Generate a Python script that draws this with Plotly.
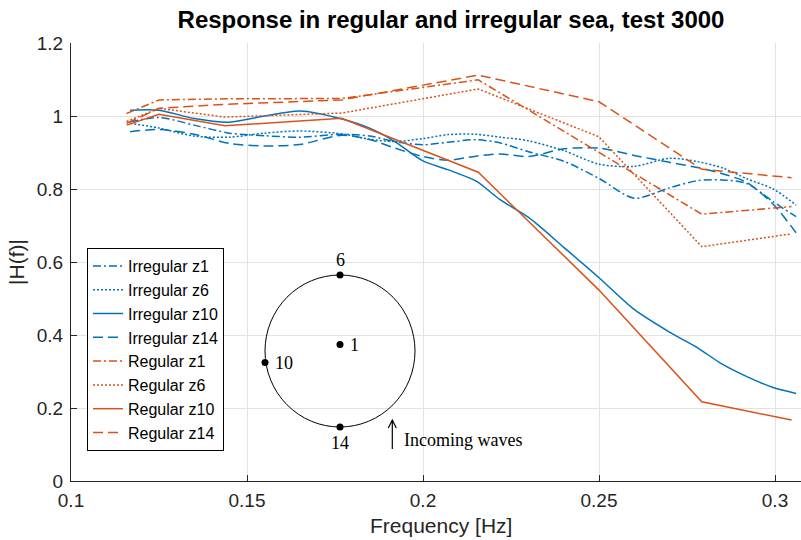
import plotly.graph_objects as go

# Irregular-sea transfer functions (smooth spectral estimates)
freq_irr = [0.1168, 0.125, 0.135, 0.145, 0.155, 0.165, 0.177, 0.185, 0.192, 0.2,
            0.207, 0.215, 0.222, 0.23, 0.24, 0.25, 0.26, 0.27, 0.278, 0.285,
            0.292, 0.2995, 0.306]
irr_z1 = [0.984, 0.996, 0.975, 0.953, 0.946, 0.942, 0.950, 0.945, 0.930, 0.921,
          0.928, 0.935, 0.926, 0.902, 0.876, 0.829, 0.775, 0.803, 0.823, 0.825,
          0.815, 0.765, 0.724]
irr_z6 = [0.980, 0.967, 0.945, 0.942, 0.953, 0.959, 0.951, 0.936, 0.930, 0.938,
          0.949, 0.950, 0.942, 0.932, 0.905, 0.868, 0.862, 0.884, 0.875, 0.858,
          0.828, 0.800, 0.756]
irr_z10 = [1.016, 1.016, 0.993, 0.983, 1.000, 1.014, 0.992, 0.966, 0.930, 0.877,
           0.853, 0.822, 0.770, 0.722, 0.640, 0.557, 0.470, 0.408, 0.365, 0.320,
           0.286, 0.256, 0.240]
irr_z14 = [0.957, 0.963, 0.950, 0.925, 0.918, 0.922, 0.947, 0.935, 0.912, 0.889,
           0.879, 0.890, 0.896, 0.889, 0.910, 0.912, 0.892, 0.873, 0.859, 0.842,
           0.818, 0.758, 0.680]

# Regular-sea tests (one value per wave frequency)
freq_reg = [0.1158, 0.125, 0.1437, 0.1769, 0.2157, 0.25, 0.2792, 0.3047]
reg_z1 = [1.007, 1.044, 1.047, 1.048, 1.099, 0.900, 0.731, 0.752]
reg_z6 = [0.985, 1.021, 0.997, 1.008, 1.074, 0.943, 0.642, 0.677]
reg_z10 = [0.975, 1.005, 0.973, 0.994, 0.846, 0.523, 0.217, 0.167]
reg_z14 = [0.980, 1.021, 1.032, 1.044, 1.112, 1.039, 0.854, 0.831]

x_ticks = [0.1, 0.15, 0.2, 0.25, 0.3]
x_ticktext = ["0.1", "0.15", "0.2", "0.25", "0.3"]
y_ticks = [0, 0.2, 0.4, 0.6, 0.8, 1.0, 1.2]
y_ticktext = ["0", "0.2", "0.4", "0.6", "0.8", "1", "1.2"]

BLUE = "#0072BD"
ORANGE = "#D95319"
DASHES = {
    "dashdot": "8px,3px,2px,3px",
    "dot": "2px,2px",
    "solid": "solid",
    "dash": "10px,5px",
}

series = [
    ("Irregular z1", freq_irr, irr_z1, BLUE, "dashdot", "spline"),
    ("Irregular z6", freq_irr, irr_z6, BLUE, "dot", "spline"),
    ("Irregular z10", freq_irr, irr_z10, BLUE, "solid", "spline"),
    ("Irregular z14", freq_irr, irr_z14, BLUE, "dash", "spline"),
    ("Regular z1", freq_reg, reg_z1, ORANGE, "dashdot", "linear"),
    ("Regular z6", freq_reg, reg_z6, ORANGE, "dot", "linear"),
    ("Regular z10", freq_reg, reg_z10, ORANGE, "solid", "linear"),
    ("Regular z14", freq_reg, reg_z14, ORANGE, "dash", "linear"),
]

fig = go.Figure()
for name, fx, fy, color, dash, shape in series:
    fig.add_trace(go.Scatter(
        x=fx, y=fy, name=name, mode="lines",
        line=dict(color=color, width=1.5, dash=DASHES[dash], shape=shape,
                  smoothing=0.8 if shape == "spline" else None),
    ))

# Plot-area geometry in pixels
W, H = 801, 540
L, R, T, B = 71, 0, 43, 59
PW, PH = W - L - R, H - T - B


def paper(px, py):
    return (px - L) / PW, (H - B - py) / PH


shapes = []
annotations = []

# Sensor layout inset: ring with gauge positions
cx0, cy0 = paper(265, 427)
cx1, cy1 = paper(415, 275)
shapes.append(dict(type="circle", xref="paper", yref="paper",
                   x0=cx0, y0=cy0, x1=cx1, y1=cy1,
                   line=dict(color="black", width=1)))

gauges = [("6", 340, 275, 340, 260), ("14", 340, 427, 340, 443),
          ("10", 265, 362.5, 284, 363), ("1", 340, 344.5, 354, 345)]
r_dot = 3.5
for label, gx, gy, tx, ty in gauges:
    a0, b0 = paper(gx - r_dot, gy + r_dot)
    a1, b1 = paper(gx + r_dot, gy - r_dot)
    shapes.append(dict(type="circle", xref="paper", yref="paper",
                       x0=a0, y0=b0, x1=a1, y1=b1,
                       fillcolor="black", line=dict(color="black", width=0)))
    ax_, ay_ = paper(tx, ty)
    annotations.append(dict(text=label, x=ax_, y=ay_, xref="paper", yref="paper",
                            showarrow=False, xanchor="center", yanchor="middle",
                            font=dict(family="Liberation Serif", size=18, color="black")))

# Wave-direction arrow
ah = paper(392.3, 420)
at = paper(392.3, 449)
hl = paper(388.3, 428)
hr = paper(396.3, 428)
shapes.append(dict(type="path", xref="paper", yref="paper",
                   path=f"M {at[0]},{at[1]} L {ah[0]},{ah[1]} M {hl[0]},{hl[1]} "
                        f"L {ah[0]},{ah[1]} L {hr[0]},{hr[1]}",
                   line=dict(color="black", width=1.2)))
tx, ty = paper(402, 440)
annotations.append(dict(text="Incoming waves", x=tx, y=ty, xref="paper", yref="paper",
                        showarrow=False, xanchor="left", yanchor="middle",
                        font=dict(family="Liberation Serif", size=18, color="black")))

# Axis label for frequency
fx_, fy_ = paper(441, 525)
annotations.append(dict(text="Frequency [Hz]", x=fx_, y=fy_, xref="paper", yref="paper",
                        showarrow=False, xanchor="center", yanchor="middle",
                        font=dict(family="Liberation Sans", size=21, color="#262626")))

axis_common = dict(
    showline=True, linecolor="#262626", linewidth=1,
    ticks="inside", ticklen=6, tickcolor="#262626", tickwidth=1,
    showgrid=True, gridcolor="#e2e2e2", gridwidth=1,
    zeroline=False, mirror=False,
    tickfont=dict(family="Liberation Sans", size=19, color="#262626"),
)

lx, ly = paper(87, 248)
fig.update_layout(
    width=W, height=H,
    margin=dict(l=L, r=R, t=T, b=B, pad=0),
    plot_bgcolor="white", paper_bgcolor="white",
    title=dict(text="<b>Response in regular and irregular sea, test 3000</b>",
               x=(451 - L) / PW, xref="paper", xanchor="center",
               y=1 - 20 / H, yref="container", yanchor="middle",
               font=dict(family="Liberation Sans", size=24, color="black")),
    xaxis=dict(range=[0.1, 0.1 + PW / 3520], tickvals=x_ticks, ticktext=x_ticktext,
               ticklabelstandoff=2, **axis_common),
    yaxis=dict(range=[0, 1.2], tickvals=y_ticks, ticktext=y_ticktext,
               ticklabelstandoff=3,
               title=dict(text="|H(f)|", standoff=6,
                          font=dict(family="Liberation Sans", size=21, color="#262626")),
               **axis_common),
    legend=dict(x=lx, y=ly, xanchor="left", yanchor="top",
                bgcolor="white", bordercolor="black", borderwidth=1,
                font=dict(family="Liberation Sans", size=16, color="black"),
                itemwidth=30, tracegroupgap=0),
    shapes=shapes,
    annotations=annotations,
    showlegend=True,
)

fig.write_html("out.html")
